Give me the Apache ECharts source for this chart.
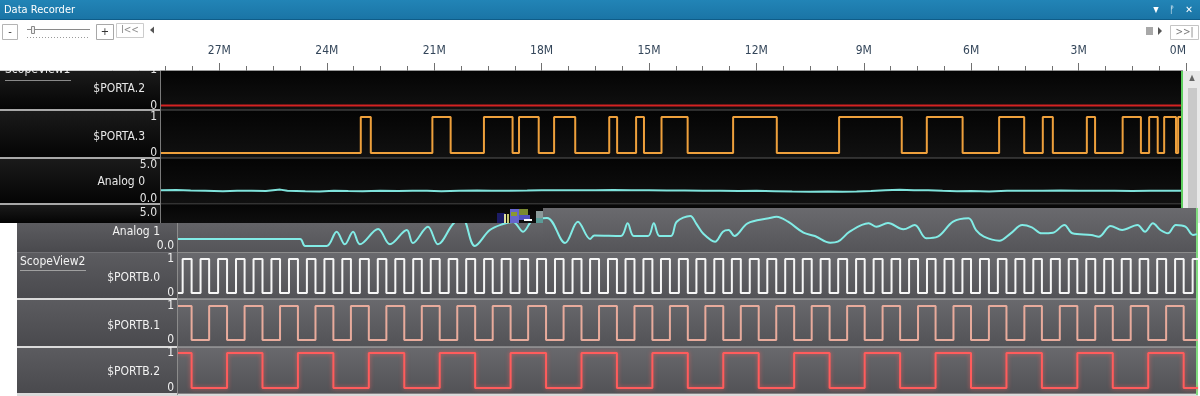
<!DOCTYPE html>
<html><head><meta charset="utf-8">
<script src="https://cdn.jsdelivr.net/npm/echarts@6/dist/echarts.min.js"></script>
<style>html,body{margin:0;padding:0;background:#fff;}#c{width:1200px;height:396px;}</style>
</head><body><div id="c"></div><script>
// ---------- DATA (time in M, counted back from now) ----------
const timeTickLabels = [27, 24, 21, 18, 15, 12, 9, 6, 3, 0];
const timeStart = 28.63, timeEnd = 0.14;

const portA2Init = 0;
const portA2Edges = [];
const portA3Init = 0;
const portA3Edges = [23.05,22.77,21.05,20.54,19.61,18.81,18.63,18.08,17.65,17.06,16.11,15.89,15.36,15.14,14.65,13.92,12.65,11.43,9.69,7.94,7.24,6.24,5.22,4.52,4.00,3.72,2.77,2.54,1.77,1.26,1.03,0.79,0.61,0.28,0.22];

const analog0T = [28.63,28.2,27.8,27.4,26.9,26.5,26.1,25.7,25.3,25.1,24.6,24.2,23.8,23.4,23.0,22.5,22.0,21.6,21.2,20.8,20.3,19.8,19.4,18.9,18.4,18.0,17.5,17.0,16.5,16.0,15.5,15.0,14.5,14.0,13.5,13.0,12.5,12.0,11.5,11.0,10.5,10.0,9.6,9.2,8.8,8.4,8.0,7.6,7.2,6.8,6.4,6.0,5.5,5.0,4.5,4.0,3.5,3.0,2.5,2.0,1.5,1.0,0.5,0.14];
const analog0V = [1.3,1.32,1.25,1.22,1.15,1.2,1.22,1.18,1.38,1.2,1.15,1.12,1.2,1.17,1.15,1.2,1.18,1.22,1.2,1.15,1.2,1.25,1.22,1.2,1.25,1.3,1.28,1.3,1.3,1.32,1.3,1.28,1.25,1.25,1.2,1.22,1.18,1.2,1.15,1.1,1.08,1.12,1.05,1.1,1.18,1.3,1.35,1.28,1.3,1.2,1.15,1.18,1.12,1.2,1.22,1.2,1.25,1.2,1.22,1.2,1.18,1.2,1.22,1.2];

const analog1T = [28.63,25.22,25.08,24.48,24.20,23.97,23.74,23.55,23.04,22.71,22.24,22.07,21.65,21.37,20.95,20.70,20.34,19.92,19.55,19.27,18.99,18.72,18.32,17.82,17.46,17.12,17.00,16.26,16.07,15.90,15.50,15.34,15.18,14.86,14.70,14.32,14.16,13.95,13.63,13.41,13.25,13.09,12.72,12.13,11.91,11.59,11.16,10.84,10.41,10.20,9.87,9.34,9.12,8.80,8.37,8.05,7.73,7.41,6.98,6.55,6.34,6.12,5.69,5.37,5.05,4.78,4.51,4.19,3.87,3.65,3.12,2.91,2.58,2.26,1.83,1.62,1.40,1.19,0.98,0.76,0.49,0.28,0.17];
const analog1V = [1.06,1.06,0.0,0.0,2.17,0.26,2.17,0.26,2.58,0.26,2.42,0.45,2.92,0.26,3.33,4.4,0.0,2.42,3.33,3.64,2.17,3.94,4.24,0.45,3.68,1.06,1.6,1.52,3.44,1.52,1.52,3.44,1.52,1.52,3.68,4.55,3.44,1.82,0.65,2.17,2.42,1.52,3.44,4.20,4.44,3.68,2.02,1.52,0.50,0.65,2.17,3.44,2.92,3.48,2.53,3.18,1.17,1.41,3.68,4.20,2.42,1.41,0.80,1.92,3.18,2.83,1.92,2.02,3.18,1.92,1.67,1.41,3.03,2.42,3.18,2.17,3.44,2.42,1.92,3.18,2.92,1.67,1.8];

const portB0Init = 0;
const portB0Edges = [28.50,28.25,28.00,27.76,27.51,27.26,27.01,26.77,26.52,26.27,26.02,25.78,25.53,25.28,25.03,24.79,24.54,24.29,24.04,23.80,23.55,23.30,23.05,22.81,22.56,22.31,22.06,21.82,21.57,21.32,21.07,20.83,20.58,20.33,20.08,19.84,19.59,19.34,19.09,18.85,18.60,18.35,18.10,17.86,17.61,17.36,17.12,16.87,16.62,16.37,16.13,15.88,15.63,15.38,15.14,14.89,14.64,14.39,14.15,13.90,13.65,13.40,13.16,12.91,12.66,12.41,12.17,11.92,11.67,11.42,11.18,10.93,10.68,10.43,10.19,9.94,9.69,9.45,9.20,8.95,8.70,8.46,8.21,7.96,7.71,7.47,7.22,6.97,6.72,6.48,6.23,5.98,5.73,5.49,5.24,4.99,4.74,4.50,4.25,4.00,3.75,3.51,3.26,3.01,2.76,2.52,2.27,2.02,1.77,1.53,1.28,1.03,0.78,0.54,0.29];
const portB1Init = 1;
const portB1Edges = [28.25,27.76,27.26,26.77,26.27,25.78,25.28,24.79,24.29,23.80,23.30,22.81,22.31,21.82,21.32,20.83,20.33,19.84,19.34,18.85,18.35,17.86,17.36,16.87,16.37,15.88,15.38,14.89,14.39,13.90,13.40,12.91,12.41,11.92,11.42,10.93,10.43,9.94,9.45,8.95,8.46,7.96,7.47,6.97,6.48,5.98,5.49,4.99,4.50,4.00,3.51,3.01,2.52,2.02,1.53,1.03,0.54];
const portB2Init = 1;
const portB2Edges = [28.25,27.26,26.27,25.28,24.29,23.30,22.31,21.32,20.33,19.34,18.35,17.36,16.37,15.38,14.39,13.40,12.41,11.42,10.43,9.45,8.46,7.47,6.48,5.49,4.50,3.51,2.52,1.53,0.54];

// ---------- helpers ----------
function stepData(init, edges) {
  const pts = [[timeStart, init]]; let l = init;
  for (const e of edges) { pts.push([e, l]); l = 1 - l; pts.push([e, l]); }
  pts.push([timeEnd, l]); return pts;
}
function pairs(t, v) { return t.map((x, i) => [x, v[i]]); }

const FONT = "'DejaVu Sans Condensed','Liberation Sans Narrow','Roboto Condensed','DejaVu Sans',sans-serif";

const grids = [
  {left:112, top:70, width:1074, height:1},
  {left:161, top:70, width:1020, height:35.5},
  {left:161, top:117, width:1020, height:36},
  {left:161, top:165, width:1020, height:34},
  {left:161, top:213, width:1020, height:33},
  {left:178, top:213, width:1020, height:33},
  {left:178, top:259, width:1020, height:34},
  {left:178, top:306, width:1020, height:34},
  {left:178, top:353, width:1020, height:35}
];

const xAxes = [{
  gridIndex:0, type:'value', min:0, max:30, interval:3, inverse:true, position:'top',
  axisLine:{show:false}, splitLine:{show:false},
  axisTick:{show:true, length:8, lineStyle:{color:'#707070', width:1}},
  minorTick:{show:true, splitNumber:4, length:5, lineStyle:{color:'#707070', width:1}},
  axisLabel:{margin:13, color:'#34465a', fontSize:12, fontFamily:FONT, alignMinLabel:'right',
    formatter:v => timeTickLabels.includes(v) ? v + 'M' : ''}
}];
for (let i = 1; i < grids.length; i++) {
  xAxes.push({gridIndex:i, type:'value', min:timeEnd, max:timeStart, inverse:true, show:false});
}
function yAx(i, max, color, opts) {
  return Object.assign({
    gridIndex:i, type:'value', min:0, max:max, interval:max,
    axisLine:{show:false}, axisTick:{show:false}, splitLine:{show:false},
    axisLabel:Object.assign({color:color, fontSize:12, fontFamily:FONT, margin:4,
      formatter: v => max === 5 ? v.toFixed(1) : String(v)}, opts || {})
  });
}
const yAxes = [
  {gridIndex:0, show:false, type:'value'},
  yAx(1, 1, '#e4e4e4'),
  yAx(2, 1, '#e4e4e4'),
  yAx(3, 5, '#e4e4e4'),
  yAx(4, 5, '#e4e4e4', {showMinLabel:false}),
  yAx(5, 5, '#f0f0f0', {showMaxLabel:false}),
  yAx(6, 1, '#f0f0f0'),
  yAx(7, 1, '#f0f0f0'),
  yAx(8, 1, '#f0f0f0')
];

function ser(idx, data, color, extra) {
  return Object.assign({
    type:'line', xAxisIndex:idx, yAxisIndex:idx, data:data, symbol:'none', showSymbol:false,
    clip:false, silent:true, animation:false,
    lineStyle:{color:color, width:2}
  }, extra || {});
}
const series = [
  ser(1, stepData(portA2Init, portA2Edges), '#d42222'),
  ser(2, stepData(portA3Init, portA3Edges), '#eea03c'),
  ser(3, pairs(analog0T, analog0V), '#7fe3dc'),
  ser(5, pairs(analog1T, analog1V), '#82ece6', {smooth:0.35}),
  ser(6, stepData(portB0Init, portB0Edges), '#f6f6f6'),
  ser(7, stepData(portB1Init, portB1Edges), '#e8ab9c'),
  ser(8, stepData(portB2Init, portB2Edges), '#ff5a5a',
      {lineStyle:{color:'#ff5c5c', width:2, shadowBlur:4, shadowColor:'rgba(255,90,90,0.7)'}})
];

// ---------- decoration (UI chrome) ----------
function R(x, y, w, h, fill, z, stroke) {
  return {type:'rect', z:z === undefined ? -5 : z, silent:true, shape:{x:x, y:y, width:w, height:h},
    style:{fill:fill, stroke:stroke || null, lineWidth:1}};
}
function G(c1, c2) { return {type:'linear', x:0, y:0, x2:0, y2:1, colorStops:[{offset:0, color:c1}, {offset:1, color:c2}]}; }
function T(x, y, text, fill, size, align, z, weight) {
  return {type:'text', z:z === undefined ? 5 : z, silent:true, x:x, y:y,
    style:{text:text, fill:fill, font:(weight || 'normal') + ' ' + size + 'px ' + FONT,
      textAlign:align || 'left', align:align || 'left', textVerticalAlign:'middle', verticalAlign:'middle'}};
}
const gfx = [];
// title bar
gfx.push(R(0, 0, 1200, 20, G('#2284b6', '#1a74a5')));
gfx.push(R(0, 19, 1200, 1, '#0f5c88'));
gfx.push(T(4, 10, 'Data Recorder', '#ffffff', 11, 'left'));
gfx.push(T(1156, 10, '▾', '#ffffff', 12, 'center'));
gfx.push(T(1172, 10, 'ᚠ', '#ffffff', 10, 'center'));
gfx.push(T(1189, 10, '✕', '#ffffff', 10, 'center'));
// toolbar
gfx.push(R(2.5, 24.5, 15, 15, '#ffffff', -4, '#b4b4b4'));
gfx.push(T(10, 32, '-', '#333', 11, 'center'));
gfx.push(R(27, 29, 63, 1, '#8a8a8a', -4));
gfx.push(R(31.5, 26.5, 3, 7, '#f0f0f0', -3, '#8a8a8a'));
gfx.push({type:'line', z:-4, silent:true, shape:{x1:27, y1:37.5, x2:89, y2:37.5}, style:{stroke:'#9a9a9a', lineWidth:1, lineDash:[1, 2]}});
gfx.push(R(96.5, 24.5, 17, 15, '#ffffff', -4, '#a8a8a8'));
gfx.push(T(105, 32, '+', '#333', 11, 'center'));
gfx.push(R(116.5, 23.5, 27, 14, '#ffffff', -4, '#cccccc'));
gfx.push(T(130, 30.5, 'I<<', '#8c8c8c', 10, 'center'));
gfx.push({type:'polygon', z:-4, silent:true, shape:{points:[[150, 30], [154, 26.5], [154, 33.5]]}, style:{fill:'#555'}});
gfx.push(R(1146, 27, 7, 8, '#a8a8a8', -4));
gfx.push({type:'polygon', z:-4, silent:true, shape:{points:[[1158, 27], [1158, 35], [1162, 31]]}, style:{fill:'#555'}});
gfx.push(R(1170.5, 25.5, 28, 14, '#ffffff', -4, '#c4c4c4'));
gfx.push(T(1184.5, 32.5, '>>|', '#7a7a7a', 10, 'center'));

// top panel rows
const topRows = [[71, 110], [110, 158], [158, 204], [204, 223]];
topRows.forEach(r => {
  gfx.push(R(0, r[0], 160, r[1] - r[0], G('#1b1b1b', '#040404'), -9));
  gfx.push(R(161, r[0], 1020, r[1] - r[0], G('#040404', '#111111'), -9));
});
[109, 157, 203].forEach(y => {
  gfx.push(R(0, y, 160, 2, '#a8a8a8', -6));
  gfx.push(R(161, y + 0.5, 1020, 1, '#575757', -6));
});
gfx.push(R(0, 70, 1183, 1, '#9a9a9a', -6));
gfx.push(R(160, 71, 1, 152, '#7a7a7a', -6));
gfx.push(R(1181, 71, 2, 137, '#5fcf5f', -6));
gfx.push(R(1183, 71, 17, 137, '#e9e9e9', -9));
gfx.push(R(1188, 88, 9, 120, '#c9c9c9', -8));
gfx.push(T(1192, 78, '▲', '#666', 8, 'center'));
gfx.push(T(5, 70, 'ScopeView1', '#e8e8e8', 12, 'left'));
gfx.push(R(5, 80, 66, 1, '#8a8a8a', -4));
gfx.push(T(145, 89, '$PORTA.2', '#e8e8e8', 12, 'right'));
gfx.push(T(145, 137, '$PORTA.3', '#e8e8e8', 12, 'right'));
gfx.push(T(145, 182, 'Analog 0', '#e8e8e8', 12, 'right'));
// white cover of ruler left part
gfx.push(R(0, 40, 160.5, 30.5, '#ffffff', 100));

// lower (second) panel – its top edge is at y=223 left of x=543 and at y=208 to the right
gfx.push(R(17, 223, 160, 30, G('#5c5c60', '#49494d'), -9));
gfx.push(R(178, 223, 365, 30, G('#646468', '#545458'), -9));
gfx.push(R(543, 208, 654, 45, G('#6a6a6e', '#545458'), -9));
gfx.push(R(1196, 208, 4, 15, '#e6e6e6', -9));
const lowRows = [[253, 299], [299, 347], [347, 394]];
lowRows.forEach(r => {
  gfx.push(R(17, r[0], 160, r[1] - r[0], G('#5c5c60', '#49494d'), -9));
  gfx.push(R(178, r[0], 1019, r[1] - r[0], G('#69696d', '#525256'), -9));
});
// strip of the upper capture that hides the lower trace above its edge
gfx.push(R(161, 204.5, 382, 18.5, G('#060606', '#0e0e0e'), 10));
gfx.push(R(543, 204.5, 638, 3.5, '#080808', 10));
gfx.push(R(17, 252, 160, 1, '#6e6e72', -6));
gfx.push(R(178, 252, 1019, 1, '#8c8c8c', -6));
[298, 346, 393].forEach(y => {
  gfx.push(R(17, y, 160, 2, '#dadada', -6));
  gfx.push(R(178, y + 0.5, 1019, 1, '#b6b6b6', -6));
});
gfx.push(R(177, 223, 1, 173, '#8c8c8c', -6));
gfx.push(R(1196, 208, 2, 188, '#80dc80', -6));
gfx.push(R(17, 395, 1181, 1, '#d8d8d8', -6));
gfx.push(T(20, 262, 'ScopeView2', '#f2f2f2', 12, 'left'));
gfx.push(R(20, 270, 66, 1, '#a0a0a0', -4));
gfx.push(T(160, 232, 'Analog 1', '#f2f2f2', 12, 'right'));
gfx.push(T(160, 278, '$PORTB.0', '#f2f2f2', 12, 'right'));
gfx.push(T(160, 326, '$PORTB.1', '#f2f2f2', 12, 'right'));
gfx.push(T(160, 372, '$PORTB.2', '#f2f2f2', 12, 'right'));
// screen capture artefact
gfx.push(R(497, 213, 8, 10, '#1c1c66', 50));
gfx.push(R(504, 214, 2, 9, '#e0e0a0', 50));
gfx.push(R(507, 214, 2, 9, '#c8c870', 50));
gfx.push(R(510, 209, 9, 14, '#6666cc', 50));
gfx.push(R(511, 212, 6, 4, '#8a9a30', 50));
gfx.push(R(519, 209, 9, 6, '#7a8a30', 50));
gfx.push(R(519, 215, 11, 5, '#5050c0', 50));
gfx.push(R(524, 219, 8, 2, '#ffffff', 50));
gfx.push(R(536, 211, 7, 7, '#8a9a9a', 50));
gfx.push(R(536, 218, 7, 5, '#5a9c98', 50));

const chart = echarts.init(document.getElementById('c'), null, {renderer:'canvas'});
chart.setOption({
  animation:false,
  backgroundColor:'#ffffff',
  grid:grids,
  xAxis:xAxes,
  yAxis:yAxes,
  series:series,
  graphic:{elements:gfx}
});
</script></body></html>
